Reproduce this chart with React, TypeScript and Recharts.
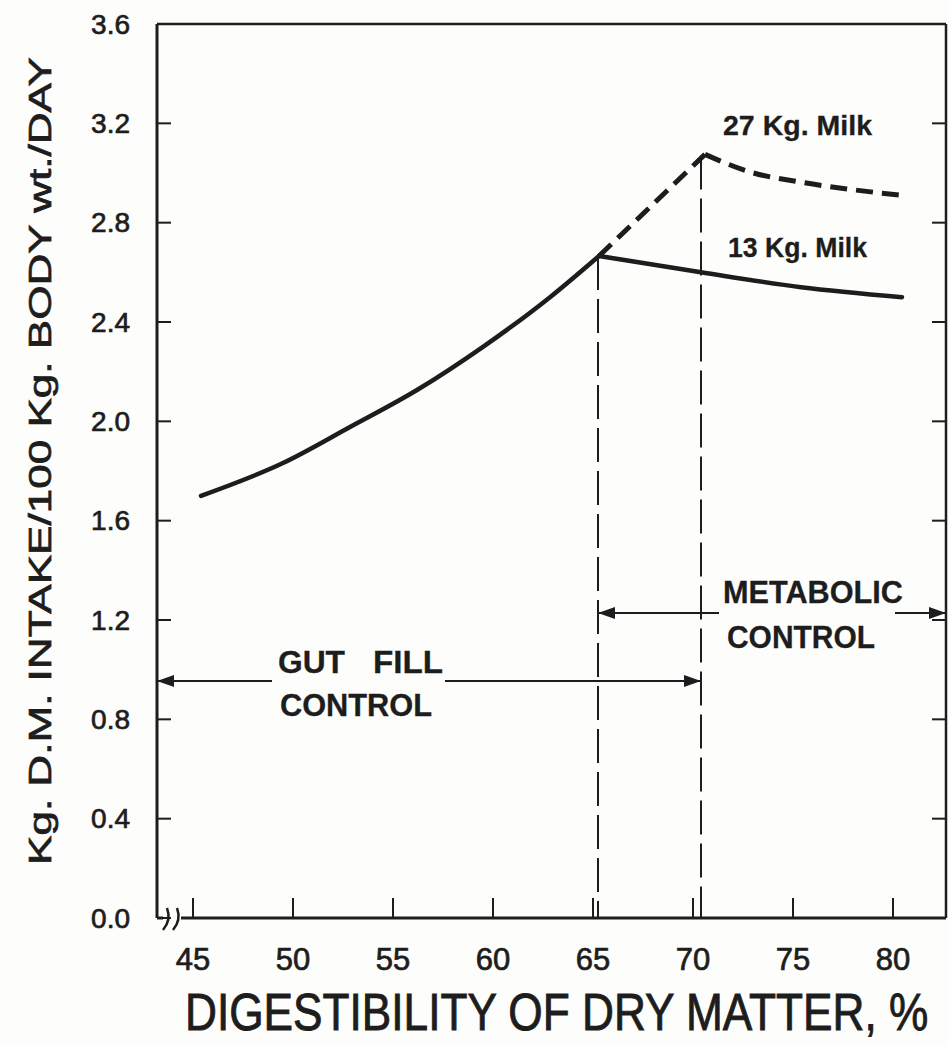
import { LineChart, Line, XAxis, YAxis, ReferenceLine, ReferenceDot } from 'recharts'

// digestibility (%) and intake (kg DM / 100 kg body wt / day)
const digestRise = [45.4, 49.5, 52.85, 56.2, 59.5, 62.85, 65.3]
const intakeRise = [1.7, 1.832, 1.977, 2.126, 2.3, 2.5, 2.666]
const digest13 = [65.3, 70.4, 75.4, 80.45]
const intake13 = [2.666, 2.6, 2.54, 2.5]
const digest27Up = [65.3, 70.6]
const intake27Up = [2.666, 3.075]
const digest27Down = [70.6, 72.85, 75.35, 80.45]
const intake27Down = [3.075, 3.004, 2.964, 2.91]

const xTicks = [45, 50, 55, 60, 65, 70, 75, 80]
const yTicks = [0, 0.4, 0.8, 1.2, 1.6, 2.0, 2.4, 2.8, 3.2, 3.6]
const xDomain = [43.2, 82.65]
const yDomain = [0, 3.6]

// limits between gut fill and metabolic control
const gutLimit = 65.25
const metabolicLimit = 70.4
const gutArrowY = 0.954
const metaArrowY = 1.228

const ink = '#1d1d1d'
const font = '"Liberation Sans", Arial, Helvetica, sans-serif'

const toPoints = (xs: number[], ys: number[]) => xs.map((x, i) => ({ x, y: ys[i] }))

const riseData = toPoints(digestRise, intakeRise)
const milk13Data = toPoints(digest13, intake13)
const milk27UpData = toPoints(digest27Up, intake27Up)
const milk27DownData = toPoints(digest27Down, intake27Down)

// annotation texts, anchored in data units (start x, baseline y)
const notes = [
  { text: '27 Kg. Milk', x: 71.5, y: 3.153, len: 149, size: 28 },
  { text: '13 Kg. Milk', x: 71.75, y: 2.662, len: 139, size: 28 },
  { text: 'METABOLIC', x: 71.5, y: 1.269, len: 180, size: 32 },
  { text: 'CONTROL', x: 71.7, y: 1.087, len: 148, size: 32 },
  { text: 'GUT', x: 49.25, y: 0.987, len: 67, size: 31 },
  { text: 'FILL', x: 54.0, y: 0.987, len: 70, size: 31 },
  { text: 'CONTROL', x: 49.35, y: 0.814, len: 152, size: 31 },
]

const textInk = { fill: ink, stroke: ink, strokeWidth: 0.7, fontFamily: font }

function Note({ cx, cy, text, len, size }: any) {
  return (
    <text x={cx} y={cy} fontSize={size} fontWeight="bold" {...textInk} strokeWidth={0.3}
      textLength={len} lengthAdjust="spacingAndGlyphs">
      {text}
    </text>
  )
}

function LeftTick({ x, y, payload }: any) {
  return (
    <g>
      <line x1={x} y1={y} x2={x + 14} y2={y} stroke={ink} strokeWidth={2} />
      <text x={x - 27} y={y} textAnchor="end" dominantBaseline="central" fontSize={28} {...textInk}>
        {Number(payload.value).toFixed(1)}
      </text>
    </g>
  )
}

function BottomTick({ x, y, payload }: any) {
  return (
    <g>
      <line x1={x} y1={y} x2={x} y2={y - 20} stroke={ink} strokeWidth={2} />
      <text x={x} y={y + 52} textAnchor="middle" fontSize={31} {...textInk}>
        {payload.value}
      </text>
    </g>
  )
}

function TopTick({ x, y }: any) {
  return <line x1={x} y1={y} x2={x} y2={y + 14} stroke={ink} strokeWidth={2} />
}

function RightTick({ x, y }: any) {
  return <line x1={x} y1={y} x2={x - 14} y2={y} stroke={ink} strokeWidth={2} />
}

function Head({ cx, cy, dir }: any) {
  const l = 17
  const w = 6
  return (
    <polygon
      points={`${cx},${cy} ${cx - dir * l},${cy - w} ${cx - dir * l},${cy + w}`}
      fill={ink}
    />
  )
}

function AxisBreak({ cx, cy }: any) {
  const mark = (x: number) => `M ${x + 1} ${cy - 10} C ${x + 4} ${cy - 2} ${x + 3} ${cy + 5} ${x - 3} ${cy + 12}`
  return (
    <g>
      <rect x={cx - 11} y={cy - 3} width={18} height={6} fill="#fdfdfb" />
      <path d={mark(cx - 8)} stroke={ink} strokeWidth={2.5} fill="none" />
      <path d={mark(cx + 2)} stroke={ink} strokeWidth={2.5} fill="none" />
    </g>
  )
}

function YTitle({ viewBox }: any) {
  const x = viewBox.x - 57
  const y = viewBox.y + viewBox.height / 2 - 10
  return (
    <text x={x} y={y} transform={`rotate(-90 ${x} ${y})`} textAnchor="middle" dominantBaseline="central"
      fontSize={32} {...textInk} textLength={808} lengthAdjust="spacingAndGlyphs">
      Kg. D.M. INTAKE/100 Kg. BODY wt./DAY
    </text>
  )
}

function XTitle({ viewBox }: any) {
  const x = viewBox.x + 28
  const y = viewBox.y + 112
  return (
    <g transform={`translate(${x} ${y}) scale(0.85 1)`}>
      <text x={0} y={0} fontSize={52} {...textInk} strokeWidth={0.9}>
        DIGESTIBILITY OF DRY MATTER, %
      </text>
    </g>
  )
}

export default function App() {
  const axisLine = { stroke: ink, strokeWidth: 3 }
  const frameLine = { stroke: ink, strokeWidth: 2.5 }
  return (
    <div style={{ position: 'absolute', left: 0, top: 0, width: 949, height: 1046, background: '#fdfdfb', fontFamily: font }}>
      <LineChart width={949} height={1046} margin={{ top: 23, right: 2, left: 97, bottom: 68 }}>
        <XAxis dataKey="x" type="number" domain={xDomain} allowDataOverflow ticks={xTicks} interval={0}
          height={60} axisLine={axisLine} tickLine={false} tickSize={0} tickMargin={0}
          tick={<BottomTick />} label={<XTitle />} />
        <XAxis xAxisId="t" orientation="top" type="number" domain={xDomain} allowDataOverflow ticks={xTicks}
          interval={0} height={1} axisLine={frameLine} tickLine={false} tickSize={0} tickMargin={0} tick={<TopTick />} />
        <YAxis type="number" domain={yDomain} allowDataOverflow ticks={yTicks} interval={0} width={60}
          axisLine={axisLine} tickLine={false} tickSize={0} tickMargin={0}
          tick={<LeftTick />} label={<YTitle />} />
        <YAxis yAxisId="r" orientation="right" type="number" domain={yDomain} allowDataOverflow ticks={yTicks}
          interval={0} width={1} axisLine={frameLine} tickLine={false} tickSize={0} tickMargin={0} tick={<RightTick />} />

        <ReferenceLine segment={[{ x: gutLimit, y: 2.666 }, { x: gutLimit, y: 0 }]} stroke={ink} strokeWidth={2}
          strokeDasharray="34 9" ifOverflow="visible" />
        <ReferenceLine segment={[{ x: metabolicLimit, y: 3.07 }, { x: metabolicLimit, y: 0 }]} stroke={ink} strokeWidth={2}
          strokeDasharray="34 9" ifOverflow="visible" />

        <ReferenceLine segment={[{ x: xDomain[0], y: gutArrowY }, { x: 48.95, y: gutArrowY }]} stroke={ink} strokeWidth={2} ifOverflow="visible" />
        <ReferenceLine segment={[{ x: 57.6, y: gutArrowY }, { x: metabolicLimit, y: gutArrowY }]} stroke={ink} strokeWidth={2} ifOverflow="visible" />
        <ReferenceLine segment={[{ x: gutLimit, y: metaArrowY }, { x: 71.3, y: metaArrowY }]} stroke={ink} strokeWidth={2} ifOverflow="visible" />
        <ReferenceLine segment={[{ x: 80.1, y: metaArrowY }, { x: xDomain[1], y: metaArrowY }]} stroke={ink} strokeWidth={2} ifOverflow="visible" />
        <ReferenceDot x={xDomain[0]} y={gutArrowY} r={0} ifOverflow="visible" shape={(p: any) => <Head cx={p.cx} cy={p.cy} dir={-1} />} />
        <ReferenceDot x={metabolicLimit} y={gutArrowY} r={0} ifOverflow="visible" shape={(p: any) => <Head cx={p.cx} cy={p.cy} dir={1} />} />
        <ReferenceDot x={gutLimit} y={metaArrowY} r={0} ifOverflow="visible" shape={(p: any) => <Head cx={p.cx} cy={p.cy} dir={-1} />} />
        <ReferenceDot x={xDomain[1]} y={metaArrowY} r={0} ifOverflow="visible" shape={(p: any) => <Head cx={p.cx} cy={p.cy} dir={1} />} />

        <Line data={riseData} dataKey="y" type="monotone" stroke={ink} strokeWidth={4.5} dot={false}
          strokeLinecap="round" isAnimationActive={false} />
        <Line data={milk13Data} dataKey="y" type="monotone" stroke={ink} strokeWidth={4.5} dot={false}
          strokeLinecap="round" isAnimationActive={false} />
        <Line data={milk27UpData} dataKey="y" type="linear" stroke={ink} strokeWidth={5} dot={false}
          strokeDasharray="17 9" isAnimationActive={false} />
        <Line data={milk27DownData} dataKey="y" type="monotone" stroke={ink} strokeWidth={5} dot={false}
          strokeDasharray="17 9" isAnimationActive={false} />

        <ReferenceDot x={44.05} y={0} r={0} ifOverflow="visible" shape={(p: any) => <AxisBreak cx={p.cx} cy={p.cy} />} />
        {notes.map((n, i) => (
          <ReferenceDot key={i} x={n.x} y={n.y} r={0} ifOverflow="visible"
            shape={(p: any) => <Note cx={p.cx} cy={p.cy} text={n.text} len={n.len} size={n.size} />} />
        ))}
      </LineChart>
    </div>
  )
}
